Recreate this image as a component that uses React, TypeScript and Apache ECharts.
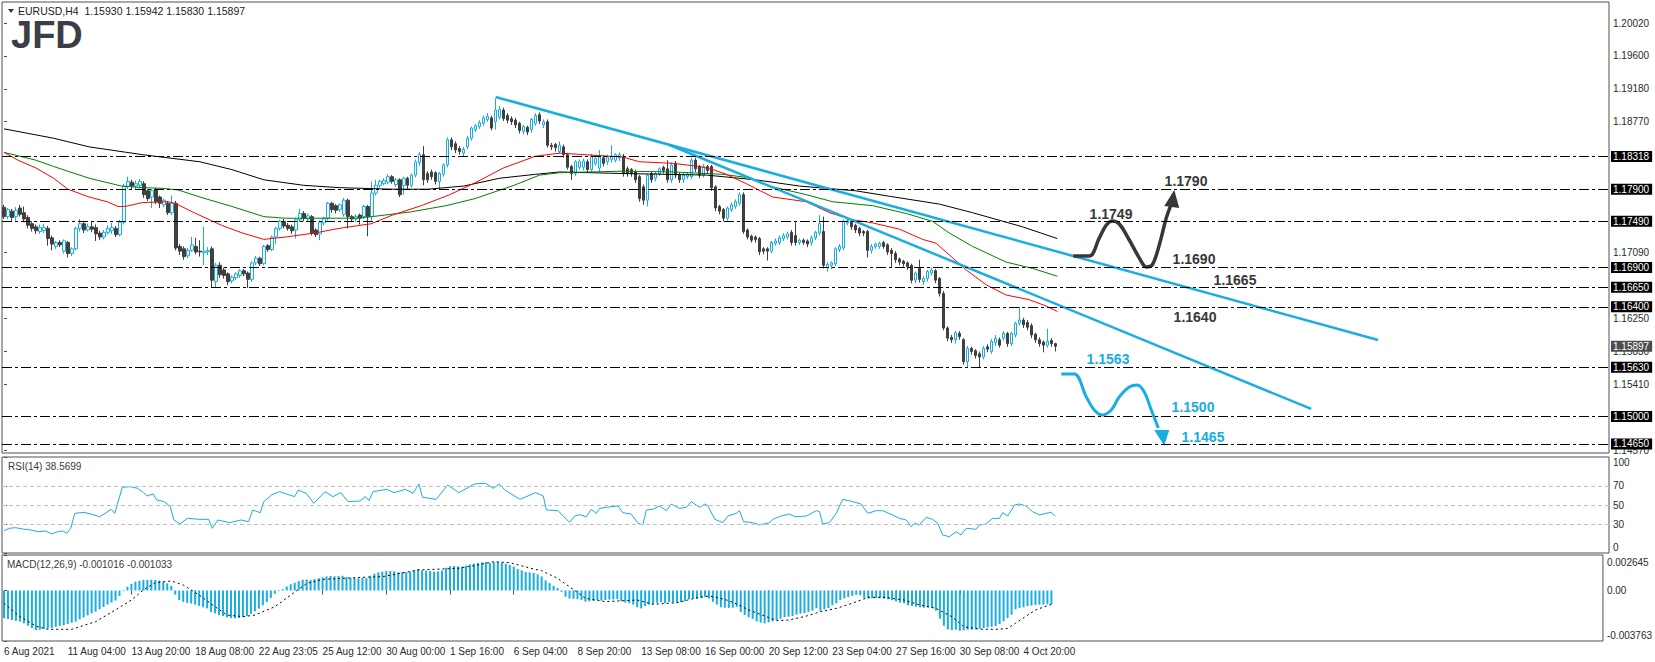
import React, { useEffect, useRef } from "react";
import * as echarts from "echarts";

// ---------------- data ----------------
const N_SLOTS = 402; // bar slots across the price panel (4px per bar)
const BARS_PER_LABEL = 16;
const xLabels = [
  "6 Aug 2021", "11 Aug 04:00", "13 Aug 20:00", "18 Aug 08:00", "22 Aug 23:05", "25 Aug 12:00",
  "30 Aug 00:00", "1 Sep 16:00", "6 Sep 04:00", "8 Sep 20:00", "13 Sep 08:00", "16 Sep 00:00",
  "20 Sep 12:00", "23 Sep 04:00", "27 Sep 16:00", "30 Sep 08:00", "4 Oct 20:00",
];
const priceTicks = [1.2002, 1.196, 1.1918, 1.1877, 1.1709, 1.1625, 1.1583, 1.1541, 1.1457];
const levels = [1.18318, 1.179, 1.1749, 1.169, 1.1665, 1.164, 1.1563, 1.15, 1.1465];
const lastPrice = 1.15897;
const rsiTicks = [0, 30, 50, 70, 100];
const rsiLevels = [30, 50, 70];
const macdTicks = [-0.003763, 0, 0.002645];

// [open, close, low, high]
const candles = [
  [1.1767,1.1755,1.1752,1.1770],[1.1755,1.1764,1.1752,1.1766],[1.1762,1.1754,1.1748,1.1765],[1.1755,1.1763,1.1750,1.1767],
  [1.1766,1.1758,1.1755,1.1770],[1.1760,1.1752,1.1748,1.1768],[1.1754,1.1744,1.1740,1.1757],[1.1746,1.1740,1.1736,1.1749],
  [1.1742,1.1737,1.1733,1.1745],[1.1736,1.1741,1.1733,1.1745],[1.1737,1.1741,1.1734,1.1746],[1.1740,1.1727,1.1718,1.1743],
  [1.1728,1.1720,1.1712,1.1731],[1.1717,1.1722,1.1714,1.1724],[1.1722,1.1719,1.1716,1.1725],[1.1711,1.1724,1.1708,1.1726],
  [1.1722,1.1708,1.1703,1.1724],[1.1708,1.1714,1.1705,1.1716],[1.1714,1.1740,1.1712,1.1742],[1.1740,1.1746,1.1736,1.1752],
  [1.1746,1.1738,1.1734,1.1748],[1.1738,1.1742,1.1736,1.1746],[1.1742,1.1739,1.1735,1.1748],[1.1741,1.1733,1.1724,1.1745],
  [1.1734,1.1729,1.1725,1.1737],[1.1729,1.1735,1.1726,1.1738],[1.1735,1.1740,1.1732,1.1744],[1.1737,1.1741,1.1733,1.1747],
  [1.1740,1.1732,1.1729,1.1743],[1.1732,1.1748,1.1730,1.1751],[1.1748,1.1794,1.1745,1.1797],[1.1794,1.1800,1.1790,1.1806],
  [1.1799,1.1794,1.1790,1.1802],[1.1794,1.1797,1.1789,1.1801],[1.1795,1.1800,1.1791,1.1803],[1.1797,1.1783,1.1779,1.1800],
  [1.1788,1.1778,1.1775,1.1790],[1.1780,1.1788,1.1766,1.1790],[1.1789,1.1774,1.1771,1.1792],[1.1780,1.1772,1.1766,1.1782],
  [1.1770,1.1776,1.1767,1.1778],[1.1772,1.1760,1.1757,1.1775],[1.1760,1.1772,1.1757,1.1782],[1.1772,1.1715,1.1712,1.1775],
  [1.1717,1.1711,1.1706,1.1720],[1.1714,1.1704,1.1700,1.1717],[1.1705,1.1712,1.1702,1.1715],[1.1712,1.1719,1.1710,1.1729],
  [1.1717,1.1710,1.1707,1.1728],[1.1711,1.1710,1.1704,1.1725],[1.1709,1.1711,1.1693,1.1742],[1.1710,1.1712,1.1706,1.1716],
  [1.1714,1.1674,1.1665,1.1717],[1.1672,1.1693,1.1664,1.1696],[1.1693,1.1681,1.1677,1.1697],[1.1687,1.1680,1.1676,1.1690],
  [1.1682,1.1672,1.1668,1.1684],[1.1673,1.1678,1.1670,1.1680],[1.1677,1.1682,1.1674,1.1684],[1.1680,1.1686,1.1677,1.1688],
  [1.1686,1.1682,1.1679,1.1688],[1.1683,1.1675,1.1664,1.1685],[1.1675,1.1696,1.1672,1.1698],[1.1696,1.1702,1.1693,1.1705],
  [1.1702,1.1695,1.1692,1.1704],[1.1695,1.1717,1.1693,1.1719],[1.1718,1.1713,1.1710,1.1720],[1.1713,1.1729,1.1711,1.1731],
  [1.1729,1.1740,1.1720,1.1742],[1.1740,1.1749,1.1737,1.1751],[1.1749,1.1743,1.1740,1.1752],[1.1744,1.1740,1.1737,1.1747],
  [1.1742,1.1737,1.1733,1.1745],[1.1738,1.1751,1.1727,1.1753],[1.1751,1.1759,1.1748,1.1765],[1.1759,1.1753,1.1749,1.1762],
  [1.1752,1.1756,1.1748,1.1759],[1.1755,1.1734,1.1731,1.1757],[1.1738,1.1732,1.1729,1.1740],[1.1733,1.1748,1.1725,1.1750],
  [1.1747,1.1753,1.1744,1.1755],[1.1753,1.1772,1.1750,1.1774],[1.1772,1.1764,1.1760,1.1774],[1.1769,1.1763,1.1759,1.1771],
  [1.1764,1.1770,1.1761,1.1772],[1.1758,1.1776,1.1755,1.1779],[1.1776,1.1755,1.1740,1.1778],[1.1755,1.1752,1.1749,1.1757],
  [1.1752,1.1755,1.1748,1.1758],[1.1757,1.1753,1.1745,1.1759],[1.1755,1.1768,1.1752,1.1770],[1.1768,1.1755,1.1730,1.1770],
  [1.1755,1.1785,1.1750,1.1800],[1.1785,1.1795,1.1782,1.1802],[1.1795,1.1800,1.1792,1.1802],[1.1797,1.1801,1.1795,1.1804],
  [1.1799,1.1806,1.1796,1.1809],[1.1806,1.1800,1.1797,1.1808],[1.1796,1.1802,1.1793,1.1804],[1.1802,1.1783,1.1780,1.1804],
  [1.1795,1.1804,1.1783,1.1806],[1.1804,1.1795,1.1790,1.1806],[1.1795,1.1808,1.1792,1.1810],[1.1808,1.1825,1.1805,1.1828],
  [1.1824,1.1834,1.1820,1.1837],[1.1834,1.1802,1.1795,1.1845],[1.1810,1.1802,1.1798,1.1813],[1.1812,1.1806,1.1802,1.1815],
  [1.1811,1.1800,1.1796,1.1813],[1.1800,1.1810,1.1790,1.1812],[1.1809,1.1821,1.1806,1.1823],[1.1821,1.1853,1.1818,1.1856],
  [1.1853,1.1844,1.1840,1.1856],[1.1848,1.1840,1.1836,1.1851],[1.1842,1.1838,1.1834,1.1845],[1.1836,1.1841,1.1832,1.1844],
  [1.1844,1.1855,1.1841,1.1858],[1.1855,1.1868,1.1852,1.1870],[1.1866,1.1871,1.1863,1.1873],[1.1870,1.1875,1.1867,1.1878],
  [1.1874,1.1881,1.1871,1.1884],[1.1879,1.1883,1.1876,1.1887],[1.1881,1.1868,1.1865,1.1884],[1.1876,1.1891,1.1866,1.1906],
  [1.1882,1.1892,1.1879,1.1896],[1.1891,1.1880,1.1877,1.1894],[1.1884,1.1878,1.1874,1.1887],[1.1880,1.1876,1.1872,1.1883],
  [1.1878,1.1872,1.1868,1.1881],[1.1874,1.1865,1.1861,1.1876],[1.1864,1.1870,1.1860,1.1872],[1.1869,1.1863,1.1859,1.1871],
  [1.1866,1.1879,1.1862,1.1881],[1.1874,1.1884,1.1871,1.1887],[1.1885,1.1877,1.1873,1.1888],[1.1872,1.1876,1.1868,1.1879],
  [1.1876,1.1846,1.1843,1.1879],[1.1846,1.1844,1.1840,1.1849],[1.1847,1.1843,1.1838,1.1849],[1.1838,1.1846,1.1835,1.1851],
  [1.1844,1.1834,1.1830,1.1847],[1.1834,1.1818,1.1815,1.1836],[1.1819,1.1810,1.1802,1.1821],[1.1810,1.1825,1.1807,1.1827],
  [1.1818,1.1825,1.1815,1.1828],[1.1818,1.1826,1.1814,1.1829],[1.1825,1.1815,1.1811,1.1828],[1.1815,1.1832,1.1812,1.1835],
  [1.1823,1.1829,1.1820,1.1834],[1.1817,1.1831,1.1812,1.1840],[1.1830,1.1823,1.1819,1.1833],[1.1825,1.1831,1.1821,1.1834],
  [1.1828,1.1832,1.1824,1.1846],[1.1827,1.1834,1.1824,1.1836],[1.1830,1.1834,1.1826,1.1837],[1.1832,1.1810,1.1806,1.1835],
  [1.1816,1.1810,1.1806,1.1819],[1.1815,1.1810,1.1806,1.1817],[1.1812,1.1802,1.1798,1.1815],[1.1806,1.1778,1.1774,1.1808],
  [1.1793,1.1776,1.1770,1.1796],[1.1776,1.1808,1.1768,1.1810],[1.1810,1.1802,1.1798,1.1813],[1.1804,1.1810,1.1800,1.1812],
  [1.1810,1.1816,1.1807,1.1818],[1.1818,1.1814,1.1810,1.1820],[1.1816,1.1802,1.1798,1.1827],[1.1802,1.1821,1.1798,1.1824],
  [1.1823,1.1808,1.1804,1.1826],[1.1808,1.1802,1.1798,1.1811],[1.1802,1.1808,1.1798,1.1811],[1.1806,1.1809,1.1803,1.1812],
  [1.1806,1.1827,1.1803,1.1830],[1.1827,1.1816,1.1812,1.1830],[1.1819,1.1808,1.1804,1.1821],[1.1808,1.1819,1.1805,1.1822],
  [1.1819,1.1814,1.1810,1.1821],[1.1819,1.1792,1.1788,1.1821],[1.1793,1.1766,1.1762,1.1795],[1.1768,1.1762,1.1758,1.1770],
  [1.1764,1.1753,1.1749,1.1766],[1.1753,1.1766,1.1750,1.1768],[1.1764,1.1770,1.1761,1.1773],[1.1768,1.1774,1.1765,1.1777],
  [1.1772,1.1783,1.1769,1.1786],[1.1783,1.1736,1.1733,1.1786],[1.1738,1.1729,1.1726,1.1740],[1.1730,1.1725,1.1722,1.1732],
  [1.1729,1.1726,1.1722,1.1731],[1.1727,1.1710,1.1706,1.1729],[1.1714,1.1711,1.1707,1.1716],[1.1714,1.1711,1.1699,1.1716],
  [1.1711,1.1722,1.1708,1.1724],[1.1721,1.1724,1.1718,1.1727],[1.1722,1.1728,1.1719,1.1731],[1.1727,1.1731,1.1724,1.1734],
  [1.1729,1.1733,1.1726,1.1736],[1.1735,1.1722,1.1718,1.1738],[1.1731,1.1722,1.1718,1.1748],[1.1722,1.1725,1.1719,1.1727],
  [1.1725,1.1722,1.1719,1.1727],[1.1724,1.1720,1.1716,1.1726],[1.1722,1.1728,1.1718,1.1731],[1.1728,1.1735,1.1725,1.1737],
  [1.1734,1.1746,1.1731,1.1757],[1.1736,1.1693,1.1689,1.1755],[1.1690,1.1694,1.1685,1.1697],[1.1693,1.1696,1.1688,1.1698],
  [1.1695,1.1714,1.1692,1.1716],[1.1713,1.1717,1.1710,1.1720],[1.1715,1.1749,1.1712,1.1751],[1.1747,1.1750,1.1744,1.1752],
  [1.1749,1.1742,1.1738,1.1751],[1.1744,1.1738,1.1734,1.1746],[1.1740,1.1734,1.1730,1.1742],[1.1736,1.1734,1.1730,1.1738],
  [1.1736,1.1712,1.1703,1.1738],[1.1712,1.1717,1.1708,1.1720],[1.1717,1.1720,1.1714,1.1722],[1.1717,1.1721,1.1714,1.1723],
  [1.1722,1.1717,1.1714,1.1724],[1.1719,1.1710,1.1706,1.1721],[1.1712,1.1708,1.1690,1.1715],[1.1708,1.1700,1.1696,1.1711],
  [1.1701,1.1697,1.1693,1.1703],[1.1698,1.1695,1.1691,1.1700],[1.1696,1.1691,1.1687,1.1698],[1.1693,1.1674,1.1670,1.1695],
  [1.1674,1.1683,1.1670,1.1685],[1.1689,1.1675,1.1671,1.1700],[1.1672,1.1676,1.1668,1.1679],[1.1676,1.1685,1.1672,1.1687],
  [1.1683,1.1687,1.1680,1.1690],[1.1686,1.1674,1.1670,1.1688],[1.1676,1.1657,1.1653,1.1678],[1.1657,1.1613,1.1610,1.1660],
  [1.1613,1.1600,1.1596,1.1615],[1.1601,1.1598,1.1594,1.1604],[1.1598,1.1607,1.1593,1.1609],[1.1606,1.1602,1.1598,1.1609],
  [1.1598,1.1570,1.1566,1.1600],[1.1570,1.1587,1.1563,1.1590],[1.1587,1.1583,1.1579,1.1589],[1.1584,1.1578,1.1574,1.1586],
  [1.1580,1.1576,1.1563,1.1583],[1.1576,1.1587,1.1573,1.1590],[1.1589,1.1586,1.1582,1.1592],[1.1583,1.1596,1.1580,1.1599],
  [1.1594,1.1600,1.1590,1.1604],[1.1598,1.1591,1.1588,1.1601],[1.1600,1.1606,1.1597,1.1609],[1.1606,1.1593,1.1589,1.1608],
  [1.1593,1.1606,1.1590,1.1608],[1.1604,1.1619,1.1601,1.1621],[1.1619,1.1623,1.1616,1.1640],[1.1623,1.1617,1.1613,1.1626],
  [1.1620,1.1614,1.1610,1.1623],[1.1616,1.1604,1.1600,1.1619],[1.1605,1.1598,1.1594,1.1607],[1.1598,1.1593,1.1589,1.1601],
  [1.1595,1.1591,1.1582,1.1597],[1.1591,1.1596,1.1588,1.1612],[1.1597,1.1593,1.1589,1.1600],[1.1593,1.15897,1.1583,1.15942],
];

// moving averages, [bar, price] points
const maRed = [[0,1.1837],[3.5,1.1827],[8,1.1817],[12.4,1.1804],[16,1.1790],[21.3,1.1780],[25.8,1.1774],[28.5,1.1768],[30.3,1.1768],[34.7,1.1773],[41,1.1774],[42.8,1.1772],[48,1.1759],[54.4,1.1744],[59.7,1.1734],[65,1.1726],[70.4,1.1729],[77.6,1.1734],[83.8,1.1740],[91.9,1.1746],[97.2,1.1757],[104.4,1.1769],[111.5,1.1783],[117.8,1.1798],[124.9,1.1817],[132.9,1.1832],[139,1.1836],[142.3,1.1835],[154.8,1.1831],[159,1.1825],[167.3,1.1823],[174,1.1819],[177.3,1.1815],[180.7,1.1809],[185.7,1.1797],[192.3,1.1780],[200.7,1.1774],[206.5,1.1760],[212.3,1.1751],[217.3,1.1747],[224,1.1739],[229.8,1.1726],[233.2,1.1721],[236.5,1.1706],[240.7,1.1687],[245.7,1.1668],[250.7,1.1655],[256.5,1.1649],[260.7,1.1641],[263.5,1.1634]];
const maGreen = [[0,1.1837],[8,1.1827],[12.4,1.1819],[21.3,1.1804],[29.4,1.1794],[34.7,1.1792],[40,1.1791],[43.6,1.1789],[49,1.1780],[57,1.1768],[65,1.1755],[70.4,1.1753],[88.3,1.1753],[92,1.1755],[101.7,1.1761],[110.6,1.1769],[117.8,1.1778],[127.6,1.1795],[134,1.1808],[139,1.1811],[154.8,1.1813],[167.3,1.1812],[179.8,1.1809],[185.7,1.1805],[192.3,1.1793],[200.7,1.1783],[207.3,1.1774],[217.3,1.1769],[225.7,1.1759],[232.3,1.1749],[236.5,1.1734],[242.3,1.1717],[250.7,1.1697],[257.3,1.1689],[263.5,1.1679]];
const maBlack = [[0,1.1867],[12.4,1.1855],[21.3,1.1844],[34.7,1.1834],[49,1.1825],[57,1.1815],[65,1.1802],[74.9,1.1795],[83.8,1.1792],[97.2,1.1790],[106,1.1790],[115,1.1794],[124,1.1804],[133,1.1809],[139,1.1812],[155,1.1810],[175.7,1.1808],[188,1.1802],[199,1.1794],[213,1.1788],[221.5,1.1781],[234,1.1771],[242.3,1.1760],[254.8,1.1742],[263.5,1.1727]];

// trend lines [bar, price]
const trendUpper = [[123,1.19076],[343.75,1.15977]];
const trendLower = [[166.5,1.18464],[327,1.15097]];

// scenario paths [bar, price]
const bullPath = [[267.5,1.17048],[271.5,1.17048],[274,1.17278],[275.75,1.17443],[277.25,1.17494],[279,1.17456],[281.5,1.17252],[284,1.17023],[285.75,1.16909],[287.25,1.16934],[289,1.17189],[290.75,1.17533],[292,1.17711]];
const bullArrow = [290.25,1.17686,292.75,1.17890,294,1.17660];
const bearPath = [[264.5,1.15543],[267.75,1.15543],[270.75,1.1525],[272.75,1.15084],[274.75,1.1502],[277,1.15084],[279,1.1525],[281.5,1.15377],[283.5,1.15403],[285.25,1.15314],[287,1.15084],[288.75,1.14854]];
const bearArrow = [287.75,1.14829,290.25,1.14624,291.5,1.14829];

// RSI(14) [bar, value]
const rsi = [[0,23.3],[1.4,25.7],[2.8,26.4],[4.7,25],[6.7,24],[8.6,22.2],[10.5,22.9],[11.9,19.8],[13.4,22.2],[14.8,22.9],[15.7,20.5],[16.7,25.7],[17.7,41.3],[20,42.4],[22,40.3],[23.9,37.8],[25.3,41.3],[26.8,45.5],[27.7,41.3],[29.6,68.4],[31.5,69.1],[33.4,67.4],[34.9,62.9],[35.8,59.4],[37.3,61.5],[38.2,55.2],[40.1,53.5],[41.6,48.3],[42.5,34.4],[44,30.2],[45.9,36.1],[48.8,35.1],[51.2,35.1],[52.1,25.7],[53.5,34.4],[56.4,31.6],[59.3,34.4],[61.2,32.6],[62.2,44.8],[64.1,42],[65,53.5],[66.9,60.4],[68.9,63.9],[72.7,58.7],[73.6,65.6],[75.6,62.2],[77.5,51.7],[80.3,63.9],[82.3,58.7],[84.2,62.9],[86.1,53.5],[89,54.2],[90.4,58.7],[91.3,54.5],[92.3,63.9],[95.7,66.3],[97.6,62.9],[100.4,66.3],[102.3,62.2],[103.8,71.9],[104.7,58],[108.1,55.9],[111,70.8],[113.8,62.9],[117.7,71.9],[120.5,72.6],[122.4,67.4],[123.9,71.9],[125.3,65.6],[129.1,55.9],[133,62.9],[134.9,59.4],[135.7,44.8],[138.6,44.1],[140.7,35.1],[141.5,32],[142.8,38.5],[144,39.9],[145.7,37.8],[146.9,45.5],[148.2,41.3],[149,46.5],[150.7,47.6],[153.6,49],[154.8,42],[156.9,40.6],[158.6,30.9],[159.8,29.2],[160.7,44.8],[162.3,45.5],[164,49],[165.7,44.1],[166.9,51],[169,46.5],[170.7,47.6],[171.9,53.5],[174,47.6],[175.3,51],[176.1,49],[177.8,35.1],[179.8,31.6],[181.1,38.5],[183.2,41.3],[184,44.1],[185,32.6],[187.3,31.6],[189,29.2],[191.5,31.6],[192.3,35.1],[194.4,38.5],[196.5,40.6],[197.8,37.8],[200.7,38.5],[203.2,44.1],[204,43.1],[204.8,30.2],[206.5,31.6],[208.2,41.3],[209.8,55.9],[212.3,53.5],[214.4,51],[216.1,41.3],[218.2,44.1],[219.8,44.1],[222.3,39.6],[224,36.1],[225.7,34.4],[226.9,27.4],[227.8,30.9],[229,29.2],[230.7,37.2],[232.3,35.1],[233.6,30.9],[234.8,18.8],[236.5,17],[238.2,22.2],[239.4,18.8],[240.7,25.7],[243.2,24.7],[244,29.2],[245.7,30.2],[247.3,36.1],[249,36.1],[249.8,42],[251.1,38.5],[252.8,50],[254,51],[255.7,49],[257.3,43.1],[259,39.6],[260.7,41.3],[261.9,42.4],[263,38.57]];

// MACD(12,26,9) main (histogram), one per bar
const macdMain = [
  -0.00207,-0.00213,-0.00220,-0.00226,-0.00232,-0.00245,-0.00262,-0.00280,-0.00294,-0.00292,
  -0.00288,-0.00283,-0.00278,-0.00270,-0.00263,-0.00257,-0.00250,-0.00240,-0.00232,-0.00215,
  -0.00200,-0.00185,-0.00170,-0.00158,-0.00140,-0.00122,-0.00105,-0.00090,-0.00075,-0.00040,
  -0.00005,0.00028,0.00050,0.00066,0.00072,0.00078,0.00078,0.00080,0.00078,0.00075,
  0.00065,0.00053,0.00034,-0.00030,-0.00071,-0.00085,-0.00092,-0.00096,-0.00105,-0.00115,
  -0.00125,-0.00133,-0.00160,-0.00170,-0.00183,-0.00190,-0.00200,-0.00205,-0.00207,-0.00205,
  -0.00198,-0.00190,-0.00175,-0.00155,-0.00135,-0.00110,-0.00085,-0.00055,-0.00025,-0.00005,
  0.00009,0.00030,0.00046,0.00058,0.00070,0.00080,0.00083,0.00078,0.00085,0.00092,
  0.00098,0.00105,0.00108,0.00106,0.00108,0.00110,0.00100,0.00095,0.00092,0.00090,
  0.00095,0.00092,0.00110,0.00125,0.00135,0.00140,0.00145,0.00145,0.00143,0.00135,
  0.00138,0.00136,0.00140,0.00150,0.00160,0.00150,0.00148,0.00146,0.00140,0.00142,
  0.00148,0.00170,0.00180,0.00182,0.00180,0.00178,0.00185,0.00195,0.00200,0.00205,
  0.00210,0.00212,0.00205,0.00210,0.00212,0.00208,0.00200,0.00190,0.00178,0.00160,
  0.00150,0.00138,0.00135,0.00130,0.00120,0.00105,0.00075,0.00055,0.00035,0.00018,
  -0.00010,-0.00046,-0.00060,-0.00062,-0.00065,-0.00070,-0.00083,-0.00080,-0.00078,-0.00072,
  -0.00075,-0.00070,-0.00068,-0.00066,-0.00064,-0.00080,-0.00090,-0.00095,-0.00105,-0.00125,
  -0.00133,-0.00115,-0.00105,-0.00100,-0.00092,-0.00088,-0.00095,-0.00085,-0.00088,-0.00090,
  -0.00086,-0.00080,-0.00065,-0.00060,-0.00062,-0.00055,-0.00048,-0.00060,-0.00085,-0.00105,
  -0.00125,-0.00128,-0.00130,-0.00128,-0.00122,-0.00160,-0.00183,-0.00200,-0.00212,-0.00230,
  -0.00240,-0.00245,-0.00238,-0.00230,-0.00220,-0.00210,-0.00198,-0.00195,-0.00190,-0.00180,
  -0.00172,-0.00168,-0.00160,-0.00150,-0.00132,-0.00150,-0.00140,-0.00130,-0.00110,-0.00095,
  -0.00070,-0.00058,-0.00048,-0.00040,-0.00032,-0.00035,-0.00055,-0.00060,-0.00058,-0.00056,
  -0.00056,-0.00060,-0.00065,-0.00072,-0.00082,-0.00090,-0.00095,-0.00110,-0.00115,-0.00120,
  -0.00125,-0.00128,-0.00126,-0.00130,-0.00150,-0.00210,-0.00262,-0.00290,-0.00295,-0.00293,
  -0.00300,-0.00296,-0.00292,-0.00292,-0.00290,-0.00285,-0.00280,-0.00275,-0.00270,-0.00265,
  -0.00250,-0.00230,-0.00205,-0.00180,-0.00140,-0.00130,-0.00125,-0.00115,-0.00112,-0.00108,
  -0.00106,-0.00104,-0.00103,-0.00102,
];
// MACD signal [bar, value]
const macdSignal = [[0,-0.00096],[4,-0.00195],[8,-0.00265],[11,-0.00289],[17,-0.00289],[23,-0.00232],[28,-0.00145],[32,-0.00071],[35,0.00004],[38,0.00058],[42,0.00071],[45,0.00041],[49,-0.00034],[53,-0.00121],[56,-0.00183],[60,-0.00195],[63,-0.00183],[68,-0.00121],[72,-0.00034],[76,0.00053],[80,0.00083],[90,0.00098],[95,0.00103],[104,0.00153],[114,0.00165],[119,0.0019],[123,0.00215],[127,0.00207],[133,0.0016],[135,0.00148],[139,0.00091],[142,0.00028],[146,-0.00058],[151,-0.00083],[159,-0.00071],[163,-0.00103],[169,-0.00091],[174,-0.00054],[177,-0.00041],[181,-0.00066],[184,-0.00101],[187,-0.00145],[191,-0.0019],[194,-0.00225],[197,-0.0022],[201,-0.00195],[205,-0.00158],[209,-0.00133],[213,-0.00095],[217,-0.00051],[221,-0.00051],[226,-0.00071],[230,-0.00108],[234,-0.00133],[238,-0.00195],[241,-0.0027],[245,-0.00288],[249,-0.0029],[252,-0.00282],[254,-0.00244],[259,-0.00145],[263,-0.00103]];

// ---------------- styling ----------------
const CYAN = "#19ade0";
const DARK = "#404040";
const ANN_DARK = "#383838";
const TXT = "#2a2a2a";
const FONT = '"Liberation Sans", Arial, sans-serif';
const BORDER = "#505050";

function arrowSeries(pts: number[], color: string) {
  return {
    type: "custom",
    xAxisIndex: 1,
    yAxisIndex: 0,
    silent: true,
    encode: { x: [0, 2, 4], y: [1, 3, 5] },
    data: [pts],
    renderItem: (_p: any, api: any) => ({
      type: "polygon",
      shape: {
        points: [
          api.coord([api.value(0), api.value(1)]),
          api.coord([api.value(2), api.value(3)]),
          api.coord([api.value(4), api.value(5)]),
        ],
      },
      style: { fill: color },
    }),
  };
}

function lineSeries(data: number[][], color: string, width: number, extra: any = {}) {
  return {
    type: "line",
    xAxisIndex: 1,
    yAxisIndex: 0,
    data,
    symbol: "none",
    silent: true,
    lineStyle: { color, width },
    ...extra,
  };
}

function annText(text: string, x: number, y: number, color: string) {
  return {
    type: "text",
    x,
    y,
    silent: true,
    style: { text, fill: color, font: `bold 14px ${FONT}`, textAlign: "center", textVerticalAlign: "middle" },
  };
}

function buildOption() {
  const cats = Array.from({ length: N_SLOTS }, (_, i) => String(i));
  const labelAt = (i: number) => i % BARS_PER_LABEL === 0 && i / BARS_PER_LABEL < xLabels.length;
  const axisFont = { fontSize: 10, fontFamily: FONT, color: TXT };
  const boxLabel = {
    show: true,
    position: "end",
    distance: 2,
    formatter: (p: any) => Number(p.value).toFixed(5),
    backgroundColor: "#000000",
    color: "#ffffff",
    fontSize: 10,
    fontFamily: FONT,
    lineHeight: 10,
    padding: [1, 3, 0, 2],
  };

  return {
    animation: false,
    backgroundColor: "#ffffff",
    grid: [
      { left: 2, right: 46, top: 2, height: 451, show: true, borderColor: BORDER, borderWidth: 1 },
      { left: 2, right: 46, top: 457, height: 96, show: true, borderColor: BORDER, borderWidth: 1 },
      { left: 2, right: 46, top: 555, height: 86, show: true, borderColor: BORDER, borderWidth: 1 },
    ],
    xAxis: [
      { type: "category", gridIndex: 0, data: cats, show: false, boundaryGap: true },
      { type: "value", gridIndex: 0, min: -0.5, max: N_SLOTS - 0.5, show: false },
      { type: "value", gridIndex: 1, min: -0.5, max: N_SLOTS - 0.5, show: false },
      {
        type: "category",
        gridIndex: 2,
        data: cats,
        boundaryGap: true,
        axisLine: { show: false },
        axisTick: { show: true, alignWithLabel: true, interval: (i: number) => labelAt(i), length: 4, lineStyle: { color: BORDER } },
        axisLabel: {
          show: true,
          interval: (i: number) => labelAt(i),
          formatter: (_v: string, i: number) => xLabels[i / BARS_PER_LABEL] ?? "",
          align: "left",
          margin: 5,
          ...axisFont,
        },
        splitLine: { show: false },
      },
      { type: "value", gridIndex: 2, min: -0.5, max: N_SLOTS - 0.5, show: false },
    ],
    yAxis: [
      {
        type: "value",
        gridIndex: 0,
        position: "right",
        min: 1.14535,
        max: 1.20288,
        splitLine: { show: false },
        axisLine: { show: false },
        axisTick: { show: true, customValues: priceTicks, length: 3, lineStyle: { color: BORDER } },
        axisLabel: { customValues: priceTicks, formatter: (v: number) => v.toFixed(5), margin: 4, ...axisFont },
      },
      {
        type: "value",
        gridIndex: 1,
        position: "right",
        min: 0,
        max: 100,
        splitLine: { show: false },
        axisLine: { show: false },
        axisTick: { show: true, customValues: rsiTicks, length: 3, lineStyle: { color: BORDER } },
        axisLabel: {
          customValues: rsiTicks,
          margin: 4,
          ...axisFont,
          formatter: (v: number) => (v >= 100 ? "{t|100}" : v <= 0 ? "{b|0}" : String(v)),
          rich: {
            t: { padding: [10, 0, 0, 0], ...axisFont },
            b: { padding: [0, 0, 12, 0], ...axisFont },
          },
        },
      },
      {
        type: "value",
        gridIndex: 2,
        position: "right",
        min: -0.003763,
        max: 0.002645,
        splitLine: { show: false },
        axisLine: { show: false },
        axisTick: { show: true, customValues: macdTicks, length: 3, lineStyle: { color: BORDER } },
        axisLabel: {
          customValues: macdTicks,
          margin: 4,
          ...axisFont,
          formatter: (v: number) =>
            v > 0.002 ? `{t|${v.toFixed(6)}}` : v < -0.003 ? `{b|${v.toFixed(6)}}` : "0.00",
          rich: {
            t: { padding: [14, 0, 0, 0], ...axisFont },
            b: { padding: [0, 0, 12, 0], ...axisFont },
          },
        },
      },
    ],
    series: [
      lineSeries(maBlack, "#000000", 1),
      lineSeries(maGreen, "#008000", 1),
      lineSeries(maRed, "#ff0000", 1),
      {
        type: "candlestick",
        xAxisIndex: 0,
        yAxisIndex: 0,
        data: candles,
        barWidth: 3,
        silent: true,
        itemStyle: { color: "#ffffff", color0: DARK, borderColor: CYAN, borderColor0: DARK, borderWidth: 1 },
        markLine: {
          silent: true,
          precision: 5,
          symbol: ["none", "none"],
          lineStyle: { color: "#000000", width: 1, type: [10, 3, 3, 3] },
          label: boxLabel,
          data: [
            ...levels.map((v) => ({ yAxis: v })),
            {
              yAxis: lastPrice,
              lineStyle: { color: "rgba(255,255,255,0)", width: 1, type: "solid" },
              label: { ...boxLabel, backgroundColor: "#4d4d4d", color: "#ffffff" },
            },
          ],
        },
      },
      lineSeries(trendUpper, CYAN, 2.5),
      lineSeries(trendLower, CYAN, 2.5),
      lineSeries(bullPath, ANN_DARK, 3.5, { smooth: 0.35 }),
      lineSeries(bearPath, CYAN, 3, { smooth: 0.35 }),
      arrowSeries(bullArrow, ANN_DARK),
      arrowSeries(bearArrow, CYAN),
      {
        type: "line",
        xAxisIndex: 2,
        yAxisIndex: 1,
        data: rsi,
        symbol: "none",
        silent: true,
        lineStyle: { color: CYAN, width: 1 },
        markLine: {
          silent: true,
          symbol: ["none", "none"],
          label: { show: false },
          lineStyle: { color: "#c0c0c0", width: 1, type: [4, 3] },
          data: rsiLevels.map((v) => ({ yAxis: v })),
        },
      },
      {
        type: "bar",
        xAxisIndex: 3,
        yAxisIndex: 2,
        data: macdMain,
        barWidth: 2,
        silent: true,
        itemStyle: { color: CYAN },
      },
      {
        type: "line",
        xAxisIndex: 4,
        yAxisIndex: 2,
        data: macdSignal,
        symbol: "none",
        silent: true,
        lineStyle: { color: "#000000", width: 1, type: [2, 3] },
      },
    ],
    graphic: [
      { type: "polygon", silent: true, shape: { points: [[8, 9], [14, 9], [11, 13]] }, style: { fill: "#333" } },
      {
        type: "text",
        x: 18,
        y: 11,
        silent: true,
        style: {
          text: "EURUSD,H4  1.15930 1.15942 1.15830 1.15897",
          fill: "#222",
          font: `10.5px ${FONT}`,
          textVerticalAlign: "middle",
        },
      },
      {
        type: "text",
        x: 11,
        y: 35,
        silent: true,
        style: { text: "JFD", fill: "#3b3e45", font: `bold 38px ${FONT}`, textVerticalAlign: "middle" },
      },
      {
        type: "text",
        x: 8,
        y: 466,
        silent: true,
        style: { text: "RSI(14) 38.5699", fill: "#3a3a3a", font: `10px ${FONT}`, textVerticalAlign: "middle" },
      },
      {
        type: "text",
        x: 7,
        y: 564,
        silent: true,
        style: {
          text: "MACD(12,26,9) -0.001016 -0.001033",
          fill: "#3a3a3a",
          font: `10px ${FONT}`,
          textVerticalAlign: "middle",
        },
      },
      annText("1.1790", 1186, 181, ANN_DARK),
      annText("1.1749", 1111, 214, ANN_DARK),
      annText("1.1690", 1194, 259, ANN_DARK),
      annText("1.1665", 1235, 280, ANN_DARK),
      annText("1.1640", 1195, 317, ANN_DARK),
      annText("1.1563", 1108, 359, CYAN),
      annText("1.1500", 1193, 407, CYAN),
      annText("1.1465", 1203, 437, CYAN),
    ],
  };
}

export default function App() {
  const ref = useRef<HTMLDivElement>(null);
  useEffect(() => {
    document.body.style.margin = "0";
    const chart = echarts.init(ref.current as HTMLDivElement, null, { renderer: "svg" });
    chart.setOption(buildOption() as any);
    return () => chart.dispose();
  }, []);
  return <div ref={ref} style={{ width: 1655, height: 662, background: "#ffffff" }} />;
}
